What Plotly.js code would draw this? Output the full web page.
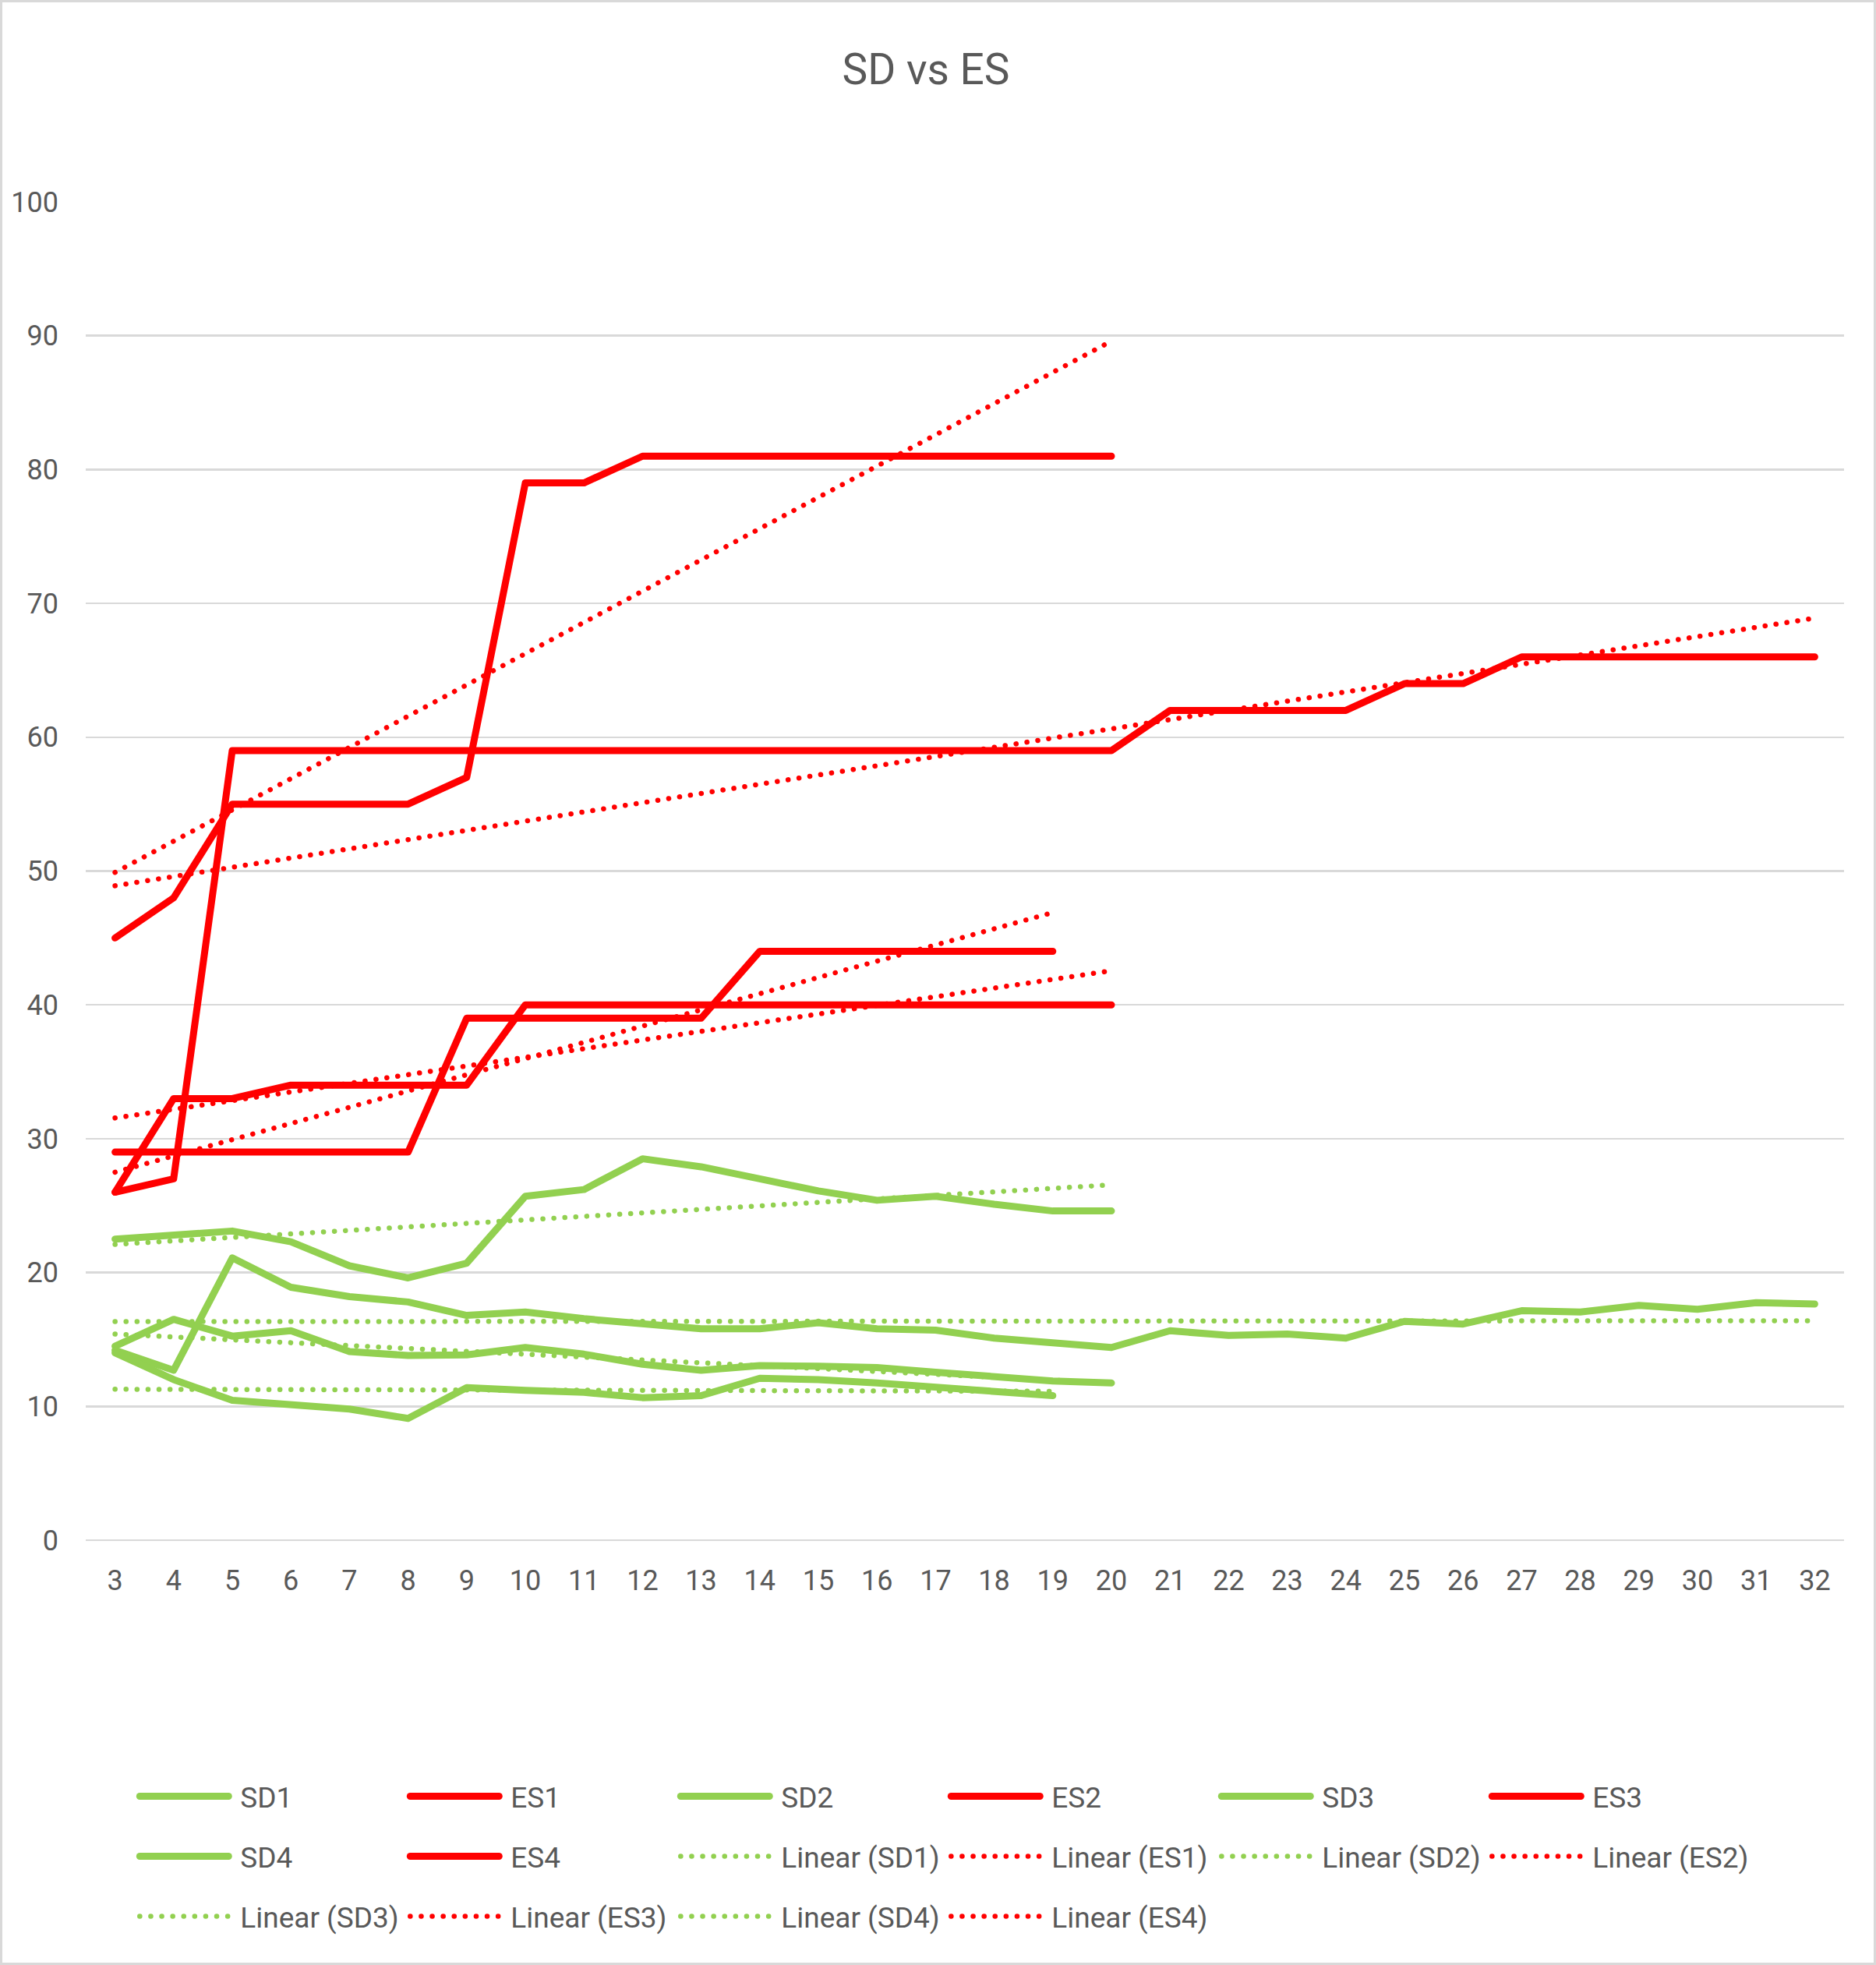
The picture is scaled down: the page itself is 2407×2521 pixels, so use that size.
<!DOCTYPE html>
<html>
<head>
<meta charset="utf-8">
<script src="https://cdn.plot.ly/plotly-3.0.1.min.js"></script>
<style>
body { margin: 0; background: #fff; }
#wrap { position: relative; width: 2407px; height: 2521px; }
#chart { width: 2407px; height: 2521px; }
#frame { position: absolute; left: 0; top: 0; right: 0; bottom: 0; border: 3px solid #d9d9d9; pointer-events: none; }
.js-line { stroke-linecap: round !important; stroke-linejoin: round !important; }
</style>
</head>
<body>
<div id="wrap"><div id="chart"></div><div id="frame"></div></div>
<script>
// categories on the x axis
const categories = [3, 4, 5, 6, 7, 8, 9, 10, 11, 12, 13, 14, 15, 16, 17, 18, 19, 20,
                    21, 22, 23, 24, 25, 26, 27, 28, 29, 30, 31, 32];

// SD series (green)
const sd1 = [22.5, 22.75, 23.1, 22.3, 20.5, 19.6, 20.7, 25.7, 26.2, 28.5, 27.9, 27.0, 26.1, 25.4, 25.7, 25.1, 24.6, 24.6];
const sd2 = [14.5, 16.5, 15.25, 15.65, 14.1, 13.8, 13.85, 14.4, 13.9, 13.15, 12.7, 13.05, 13.0, 12.9, 12.55, 12.25, 11.9, 11.75];
const sd3 = [14.2, 12.7, 21.1, 18.9, 18.2, 17.8, 16.8, 17.05, 16.55, 16.15, 15.8, 15.8, 16.25, 15.8, 15.7, 15.1, 14.75, 14.4,
             15.65, 15.3, 15.4, 15.1, 16.35, 16.15, 17.15, 17.05, 17.55, 17.25, 17.75, 17.65];
const sd4 = [14.0, 12.0, 10.45, 10.15, 9.8, 9.1, 11.4, 11.2, 11.05, 10.65, 10.8, 12.1, 12.0, 11.75, 11.45, 11.15, 10.8];

// ES series (red)
const es1 = [45, 48, 55, 55, 55, 55, 57, 79, 79, 81, 81, 81, 81, 81, 81, 81, 81, 81];
const es2 = [26, 33, 33, 34, 34, 34, 34, 40, 40, 40, 40, 40, 40, 40, 40, 40, 40, 40];
const es3 = [26, 27, 59, 59, 59, 59, 59, 59, 59, 59, 59, 59, 59, 59, 59, 59, 59, 59,
             62, 62, 62, 62, 64, 64, 66, 66, 66, 66, 66, 66];
const es4 = [29, 29, 29, 29, 29, 29, 39, 39, 39, 39, 39, 44, 44, 44, 44, 44, 44];

// linear trendlines, start and end values
const trendSd1 = [22.1, 26.55];
const trendEs1 = [49.9, 89.6];
const trendSd2 = [15.4, 11.75];
const trendEs2 = [31.55, 42.55];
const trendSd3 = [16.33, 16.4];
const trendEs3 = [48.9, 68.9];
const trendSd4 = [11.28, 11.13];
const trendEs4 = [27.5, 46.9];

const yTicks = [0, 10, 20, 30, 40, 50, 60, 70, 80, 90, 100];

const green = '#92D050';
const red = '#FF0000';
const textColor = '#595959';
const font = 'Roboto, "Noto Sans", sans-serif';

function seriesTrace(name, vals, color, legend, rank) {
    return {
        x: categories.slice(0, vals.length),
        y: vals,
        name: name,
        type: 'scatter',
        mode: 'lines',
        line: { color: color, width: 9 },
        legend: legend,
        legendrank: rank,
        hoverinfo: 'skip'
    };
}

function trendTrace(name, ends, vals, color, legend, rank) {
    return {
        x: [categories[0], categories[vals.length - 1]],
        y: ends,
        name: 'Linear (' + name + ')',
        type: 'scatter',
        mode: 'lines',
        line: { color: color, width: 6.5, dash: '0.1px,14px' },
        legend: legend,
        legendrank: rank,
        hoverinfo: 'skip'
    };
}

// trendlines first so the solid lines sit on top
const data = [
    trendTrace('SD1', trendSd1, sd1, green, 'legend2', 9),
    trendTrace('ES1', trendEs1, es1, red, 'legend2', 10),
    trendTrace('SD2', trendSd2, sd2, green, 'legend2', 11),
    trendTrace('ES2', trendEs2, es2, red, 'legend2', 12),
    trendTrace('SD3', trendSd3, sd3, green, 'legend3', 13),
    trendTrace('ES3', trendEs3, es3, red, 'legend3', 14),
    trendTrace('SD4', trendSd4, sd4, green, 'legend3', 15),
    trendTrace('ES4', trendEs4, es4, red, 'legend3', 16),
    seriesTrace('SD1', sd1, green, 'legend', 1),
    seriesTrace('ES1', es1, red, 'legend', 2),
    seriesTrace('SD2', sd2, green, 'legend', 3),
    seriesTrace('ES2', es2, red, 'legend', 4),
    seriesTrace('SD3', sd3, green, 'legend', 5),
    seriesTrace('ES3', es3, red, 'legend', 6),
    seriesTrace('SD4', sd4, green, 'legend2', 7),
    seriesTrace('ES4', es4, red, 'legend2', 8)
];

function legendRow(yPx) {
    return {
        orientation: 'h',
        xref: 'paper', x: 0.0285, xanchor: 'left',
        yref: 'container', y: 1 - yPx / 2521, yanchor: 'middle',
        font: { family: font, size: 37, color: textColor },
        itemwidth: 114,
        entrywidth: 218,
        entrywidthmode: 'pixels',
        traceorder: 'normal',
        bgcolor: 'rgba(0,0,0,0)',
        borderwidth: 0
    };
}

const layout = {
    width: 2407,
    height: 2521,
    paper_bgcolor: '#fff',
    plot_bgcolor: '#fff',
    margin: { l: 110, r: 41, t: 259, b: 545 },
    font: { family: font, color: textColor },
    title: {
        text: 'SD vs ES',
        font: { family: font, size: 55, color: textColor },
        xref: 'container', x: 1188 / 2407, xanchor: 'center',
        yref: 'container', y: 1 - 89 / 2521, yanchor: 'middle'
    },
    xaxis: {
        type: 'linear',
        range: [2.5, 32.5],
        tickvals: categories,
        ticktext: categories.map(String),
        showgrid: false,
        zeroline: false,
        showline: false,
        ticks: '',
        ticklabelstandoff: 27,
        tickfont: { family: font, size: 36, color: textColor }
    },
    yaxis: {
        range: [0, 100],
        tickvals: yTicks,
        showgrid: true,
        gridcolor: '#d9d9d9',
        gridwidth: 2.5,
        zeroline: true,
        zerolinecolor: '#d9d9d9',
        zerolinewidth: 2.5,
        showline: false,
        ticks: '',
        ticklabelstandoff: 34,
        tickfont: { family: font, size: 36, color: textColor }
    },
    legend: legendRow(2305),
    legend2: legendRow(2382),
    legend3: legendRow(2459),
    showlegend: true
};

Plotly.newPlot('chart', data, layout, { displayModeBar: false, staticPlot: true }).then(function(gd) {
    // leave a small gap between each legend line and its label, like the original
    gd.querySelectorAll('.infolayer text').forEach(function(t) {
        if (t.closest('.legendlines, .scrollbox') || t.classList.contains('legendtext')) {
            if (t.getAttribute('x') !== null) {
                t.setAttribute('x', parseFloat(t.getAttribute('x')) + 10);
            }
        }
    });
});
</script>
</body>
</html>
